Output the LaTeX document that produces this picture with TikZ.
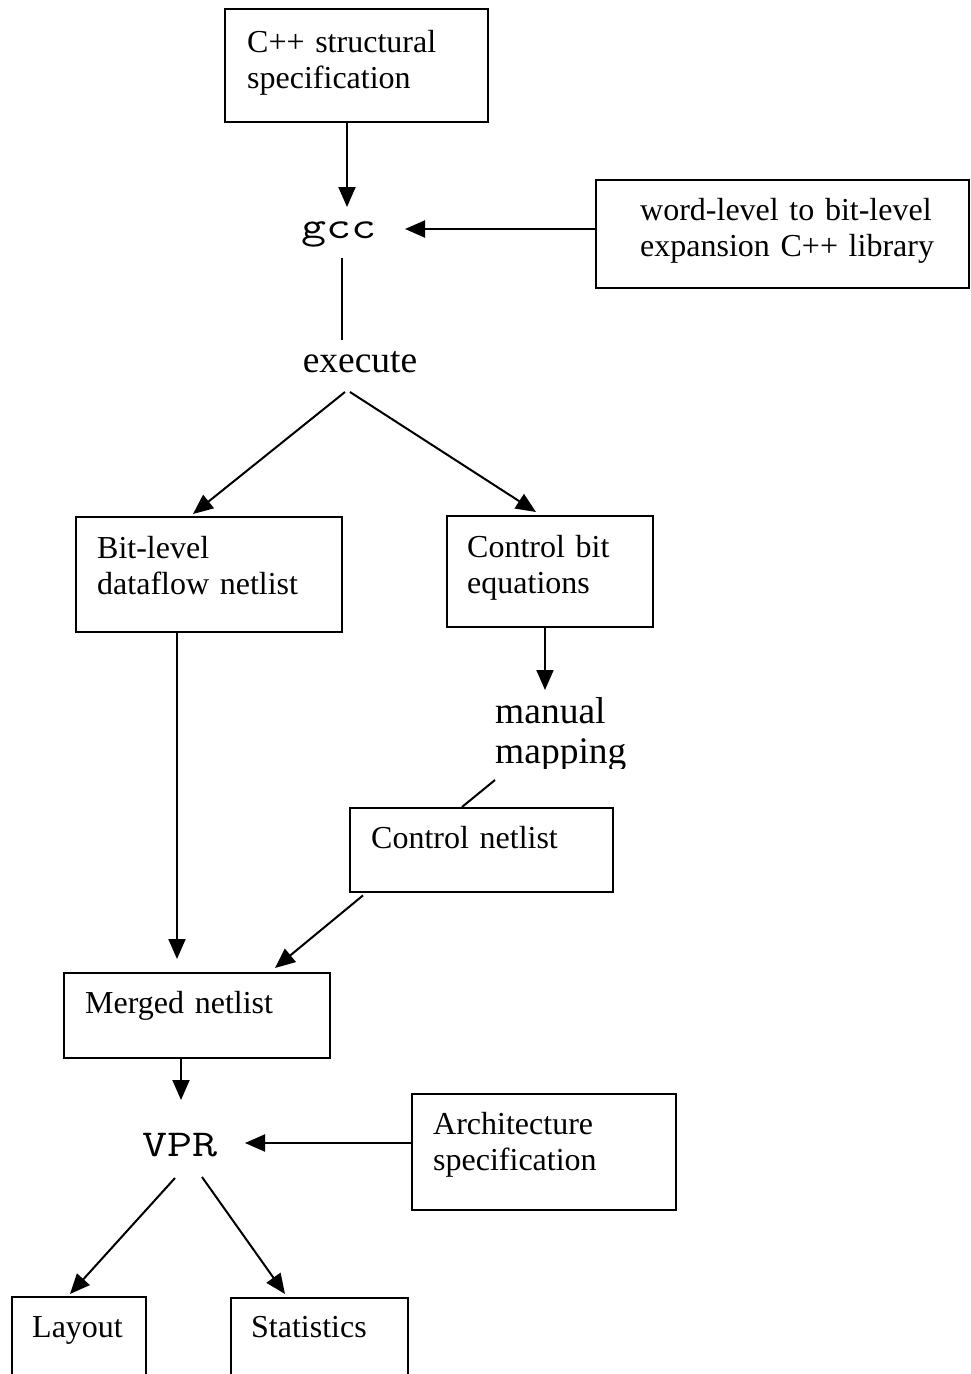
\documentclass[tikz,border=0pt]{standalone}
\usepackage{fontspec}
\usepackage{graphicx}
\setmainfont{Liberation Serif}
\usetikzlibrary{arrows.meta,calc}
% wide typewriter lettering for the tool names
\newcommand{\toolname}[1]{\scalebox{1.28}[1]{#1}}
\begin{document}
\begin{tikzpicture}[x=1pt,y=-1pt,
  box/.style={draw, line width=2.4pt, inner sep=0pt, anchor=north west},
  txt/.style={inner sep=0pt, anchor=base west, text width=330pt, align=left,
              font=\fontsize{32}{36}\selectfont},
  big/.style={inner sep=0pt, font=\fontsize{37.5}{40}\selectfont},
  code/.style={inner sep=0pt, anchor=base, font=\fontsize{38}{38}\ttfamily},
  flow/.style={line width=2pt, -{Triangle[length=20pt,width=17pt]}},
  link/.style={line width=2pt}]
\useasboundingbox (0,0) rectangle (970,1374);
\clip (0,0) rectangle (970,1374);

% boxes
\node[box, minimum width=263pt, minimum height=113pt] (cpp)    at (224,8)    {};
\node[box, minimum width=373pt, minimum height=108pt] (lib)    at (595,179)  {};
\node[box, minimum width=266pt, minimum height=115pt] (bit)    at (75,516)   {};
\node[box, minimum width=206pt, minimum height=111pt] (ctl)    at (446,515)  {};
\node[box, minimum width=263pt, minimum height=84pt]  (cn)     at (349,807)  {};
\node[box, minimum width=266pt, minimum height=85pt]  (merged) at (63,972)   {};
\node[box, minimum width=264pt, minimum height=116pt] (arch)   at (411,1093) {};
\node[box, minimum width=134pt, minimum height=100pt] (layout) at (11,1296)  {};
\node[box, minimum width=177pt, minimum height=100pt] (stats)  at (230,1297) {};

% box texts
\node[txt] (cpptxt)    at (247,52)   {C++ structural\\specification};
\node[txt] (libtxt)    at (640,220)  {word-level to bit-level\\expansion C++ library};
\node[txt] (bittxt)    at (97,558)   {Bit-level\\dataflow netlist};
\node[txt] (ctltxt)    at (467,557)  {Control bit\\equations};
\node[txt] (cntxt)     at (371,848)  {Control netlist};
\node[txt] (mergedtxt) at (85,1013)  {Merged netlist};
\node[txt] (archtxt)   at (433,1134) {Architecture\\specification};
\node[txt] (layouttxt) at (32,1337)  {Layout};
\node[txt] (statstxt)  at (251,1337) {Statistics};

% free-standing step labels
\node[code] (gcc) at (339,238)  {\toolname{gcc}};
\node[big, anchor=base] (exec) at (360,372) {execute};
\begin{scope}
  \clip (480,680) rectangle (660,768);
  \node[big, anchor=base west, text width=200pt, align=left] (manual) at (495,723) {manual\\mapping};
\end{scope}
\node[code] (vpr) at (180,1156) {\toolname{VPR}};

% connectors
\draw[flow] ($(cpp.south west)+(123,0)$) -- ($(gcc.base)+(8,-31)$);
\draw[flow] ($(lib.north west)+(0,50)$) -- ($(gcc.base)+(66,-9)$);
\draw[link] ($(gcc.base)+(3,20)$) -- ($(exec.base)+(-18,-32)$);
\draw[flow] ($(exec.base)+(-15,20)$) -- ($(bit.north west)+(118,-2)$);
\draw[flow] ($(exec.base)+(-10,20)$) -- ($(ctl.north west)+(90,-3)$);
\draw[flow] ($(bit.south west)+(102,0)$) -- ($(merged.north west)+(114,-13)$);
\draw[flow] ($(ctl.south west)+(99,0)$) -- ($(manual.base west)+(50,-33)$);
\draw[link] ($(manual.base west)+(0,57)$) -- ($(cn.north west)+(113,0)$);
\draw[flow] ($(cn.south west)+(14,2)$) -- ($(merged.north west)+(212,-4)$);
\draw[flow] ($(merged.south west)+(118,0)$) -- ($(vpr.base)+(1,-56)$);
\draw[flow] ($(arch.north west)+(0,50)$) -- ($(vpr.base)+(65,-13)$);
\draw[flow] ($(vpr.base)+(-5,22)$) -- ($(layout.north west)+(59,-2)$);
\draw[flow] ($(vpr.base)+(22,21)$) -- ($(stats.north west)+(55,-3)$);
\end{tikzpicture}
\end{document}
